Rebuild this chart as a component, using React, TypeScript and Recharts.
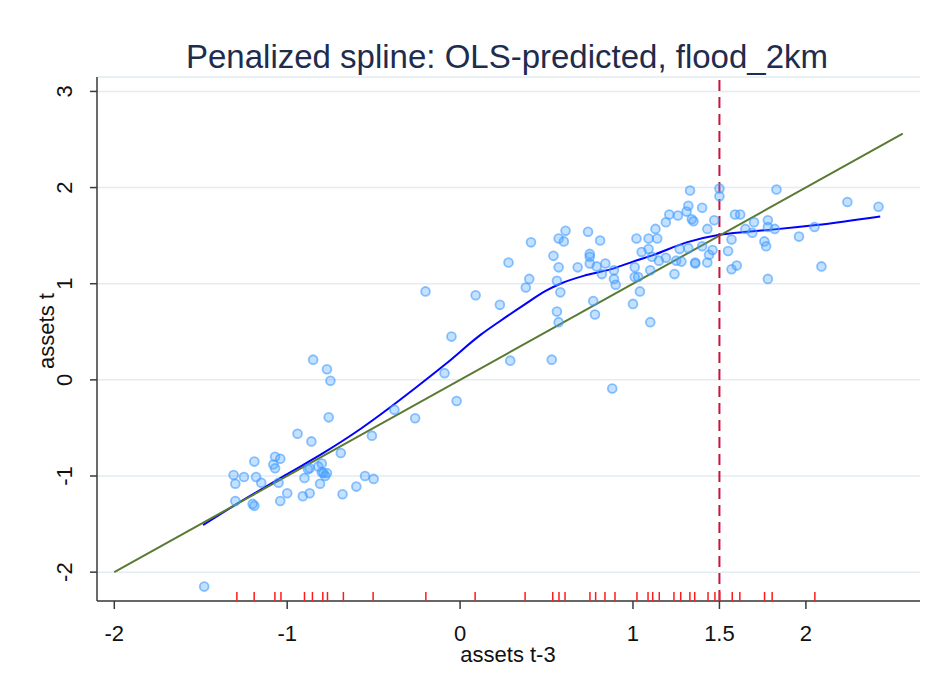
import React from "react";
import {
  ComposedChart,
  Scatter,
  Line,
  XAxis,
  YAxis,
  CartesianGrid,
  ReferenceLine,
} from "recharts";

// observed points (assets t-3, assets t)
const obsX = [
  -1.48, -0.85, -0.77, -0.75, -0.76, -0.94, -0.86, -0.51, -0.69, -1.19, -1.07, -1.04, -1.08, -1.07,
  -1.31, -1.25, -1.18, -1.30, -1.15, -1.05, -1.30, -1.20, -1.19, -1.04, -1.0, -0.91, -0.87, -0.90,
  -0.88, -0.87, -0.82, -0.80, -0.80, -0.79, -0.77, -0.78, -0.81, -0.68, -0.60, -0.55, -0.50,
  -0.20, 0.09, 0.23, -0.05, -0.09, -0.02, -0.38, -0.26, 0.29, 0.53, 0.28, 0.41, 0.38, 0.40, 0.54,
  0.57, 0.57, 0.56, 0.56, 0.57, 0.61, 0.60, 0.58, 0.68, 0.74, 0.75, 0.75, 0.75, 0.79, 0.81, 0.84,
  0.82, 0.89, 0.89, 0.90, 0.77, 0.78, 0.88, 1.0, 1.04, 1.01, 1.01, 1.03, 1.02, 1.09, 1.05, 1.09,
  1.11, 1.10, 1.10, 1.13, 1.14,
  1.33, 1.50, 1.50, 1.21, 1.26, 1.32, 1.31, 1.34, 1.35, 1.40, 1.19, 1.15, 1.19, 1.25, 1.28, 1.27,
  1.32, 1.36, 1.36, 1.40, 1.43, 1.47, 1.43, 1.44, 1.46, 1.24, 1.57, 1.55, 1.57, 1.60, 1.59, 1.62,
  1.65, 1.69, 1.70, 1.76, 1.77, 1.78, 1.78, 1.83, 1.78, 1.82, 1.96, 2.05, 2.24, 2.42, 2.09,
];
const obsY = [
  -2.15, 0.21, 0.11, -0.01, -0.39, -0.56, -0.64, -0.58, -0.76, -0.85, -0.80, -0.82, -0.88, -0.92,
  -0.99, -1.01, -1.01, -1.08, -1.07, -1.07, -1.26, -1.29, -1.31, -1.26, -1.18, -1.21, -1.18, -1.02,
  -0.93, -0.92, -0.90, -0.87, -0.96, -0.97, -0.97, -1.0, -1.08, -1.19, -1.11, -1.0, -1.03,
  0.92, 0.88, 0.78, 0.45, 0.07, -0.22, -0.31, -0.40, 0.20, 0.21, 1.22, 1.43, 0.96, 1.05, 1.29,
  1.47, 1.17, 1.03, 0.71, 0.60, 1.55, 1.44, 0.91, 1.17, 1.54, 1.31, 1.28, 1.21, 1.18, 1.45, 1.21,
  1.10, 1.14, 1.05, 0.99, 0.82, 0.68, -0.09, 0.79, 0.92, 1.17, 1.07, 1.07, 1.47, 1.47, 1.33, 1.36,
  1.28, 1.14, 0.60, 1.57, 1.47,
  1.97, 1.99, 1.91, 1.72, 1.71, 1.81, 1.75, 1.67, 1.65, 1.79, 1.64, 1.24, 1.27, 1.24, 1.23, 1.36,
  1.37, 1.22, 1.21, 1.39, 1.57, 1.66, 1.22, 1.30, 1.35, 1.10, 1.46, 1.34, 1.15, 1.19, 1.72, 1.72,
  1.57, 1.53, 1.64, 1.44, 1.39, 1.05, 1.66, 1.98, 1.59, 1.57, 1.49, 1.59, 1.85, 1.80, 1.18,
];

// penalized spline fit
const splineX = [-1.486, -1.3, -1.0, -0.79, -0.6, -0.46, -0.27, -0.08, 0.12, 0.23, 0.37, 0.5, 0.58, 0.73, 0.89, 1.0, 1.12, 1.31, 1.5, 1.66, 1.79, 2.06, 2.43];
const splineY = [-1.51, -1.3, -0.98, -0.76, -0.54, -0.36, -0.1, 0.17, 0.47, 0.61, 0.78, 0.93, 1.0, 1.09, 1.16, 1.23, 1.3, 1.43, 1.51, 1.54, 1.56, 1.61, 1.7];

// knot locations (rug)
const knotX = [
  -1.291, -1.191, -1.071, -1.036, -0.9, -0.854, -0.794, -0.767, -0.675, -0.503, -0.198, 0.087,
  0.376, 0.536, 0.572, 0.607, 0.751, 0.784, 0.838, 0.896, 1.023, 1.087, 1.114, 1.152, 1.237,
  1.276, 1.329, 1.357, 1.434, 1.474, 1.501, 1.574, 1.618, 1.761, 1.805, 2.052,
];

const diagStart = -2;
const diagEnd = 2.56;
const cutoff = 1.5;

const xTicks = [-2, -1, 0, 1, 1.5, 2];
const yTicks = [-2, -1, 0, 1, 2, 3];
const xDomain = [-2.1, 2.66];
const yDomain = [-2.3, 3.15];

const points = obsX.map((x, i) => ({ x, y: obsY[i] }));
const spline = splineX.map((x, i) => ({ x, y: splineY[i] }));
const rug = knotX.map((x) => ({ x, y: yDomain[0] }));

const font = '"Liberation Sans", Arial, sans-serif';

const YTick = (props: any) => {
  const { y, payload } = props;
  return (
    <text
      x={57}
      y={y}
      transform={`rotate(-90, 57, ${y})`}
      textAnchor="middle"
      dominantBaseline="central"
      fontSize={22}
      fontFamily={font}
      fill="#111"
    >
      {payload.value}
    </text>
  );
};

const XTick = (props: any) => {
  const { x, payload } = props;
  return (
    <text
      x={x}
      y={625}
      textAnchor="middle"
      dominantBaseline="central"
      fontSize={22}
      fontFamily={font}
      fill="#111"
    >
      {payload.value}
    </text>
  );
};

const Dot = (props: any) => (
  <circle
    cx={props.cx}
    cy={props.cy}
    r={4.4}
    fill="#4aa3ff"
    fillOpacity={0.32}
    stroke="#3f9cff"
    strokeOpacity={0.6}
    strokeWidth={1.8}
  />
);

const RugTick = (props: any) => (
  <line x1={props.cx} x2={props.cx} y1={props.cy - 9} y2={props.cy} stroke="#ff1a1a" strokeWidth={1.5} />
);

export default function App() {
  return (
    <div style={{ position: "relative", width: 915, height: 683, fontFamily: font }}>
      <div
        style={{
          position: "absolute",
          left: 499,
          top: 29,
          transform: "translateX(-50%)",
          whiteSpace: "nowrap",
          fontSize: 33,
          lineHeight: "40px",
          color: "#1e2c4e",
        }}
      >
        Penalized spline: OLS-predicted, flood_2km
      </div>
      <div
        style={{
          position: "absolute",
          left: 500,
          top: 635,
          transform: "translateX(-50%)",
          whiteSpace: "nowrap",
          fontSize: 22,
          lineHeight: "24px",
          color: "#111",
        }}
      >
        assets t-3
      </div>
      <div
        style={{
          position: "absolute",
          left: 39,
          top: 323,
          transform: "translate(-50%, -50%) rotate(-90deg)",
          whiteSpace: "nowrap",
          fontSize: 22,
          lineHeight: "24px",
          color: "#111",
        }}
      >
        assets t
      </div>
      <ComposedChart width={915} height={683} margin={{ top: 69, right: 3, bottom: 0, left: 0 }}>
        <CartesianGrid vertical={false} stroke="#e3ecf1" strokeWidth={1.5} />
        <XAxis
          type="number"
          dataKey="x"
          domain={xDomain}
          ticks={xTicks}
          allowDataOverflow
          height={90}
          tickSize={8}
          tick={<XTick />}
          axisLine={{ stroke: "#3a3a3a", strokeWidth: 1.5 }}
          tickLine={{ stroke: "#3a3a3a", strokeWidth: 1.5 }}
        />
        <YAxis
          type="number"
          dataKey="y"
          domain={yDomain}
          ticks={yTicks}
          allowDataOverflow
          width={89}
          tickSize={7}
          tick={<YTick />}
          axisLine={{ stroke: "#3a3a3a", strokeWidth: 1.5 }}
          tickLine={{ stroke: "#3a3a3a", strokeWidth: 1.5 }}
        />
        <Scatter data={points} shape={<Dot />} isAnimationActive={false} />
        <Scatter data={rug} shape={<RugTick />} isAnimationActive={false} />
        <Line
          data={spline}
          dataKey="y"
          type="monotone"
          stroke="#0000ff"
          strokeWidth={2}
          dot={false}
          isAnimationActive={false}
        />
        <ReferenceLine
          segment={[
            { x: diagStart, y: diagStart },
            { x: diagEnd, y: diagEnd },
          ]}
          stroke="#5a7a33"
          strokeWidth={2}
        />
        <ReferenceLine x={cutoff} stroke="#c8143c" strokeWidth={2} strokeDasharray="11 6" />
      </ComposedChart>
    </div>
  );
}
